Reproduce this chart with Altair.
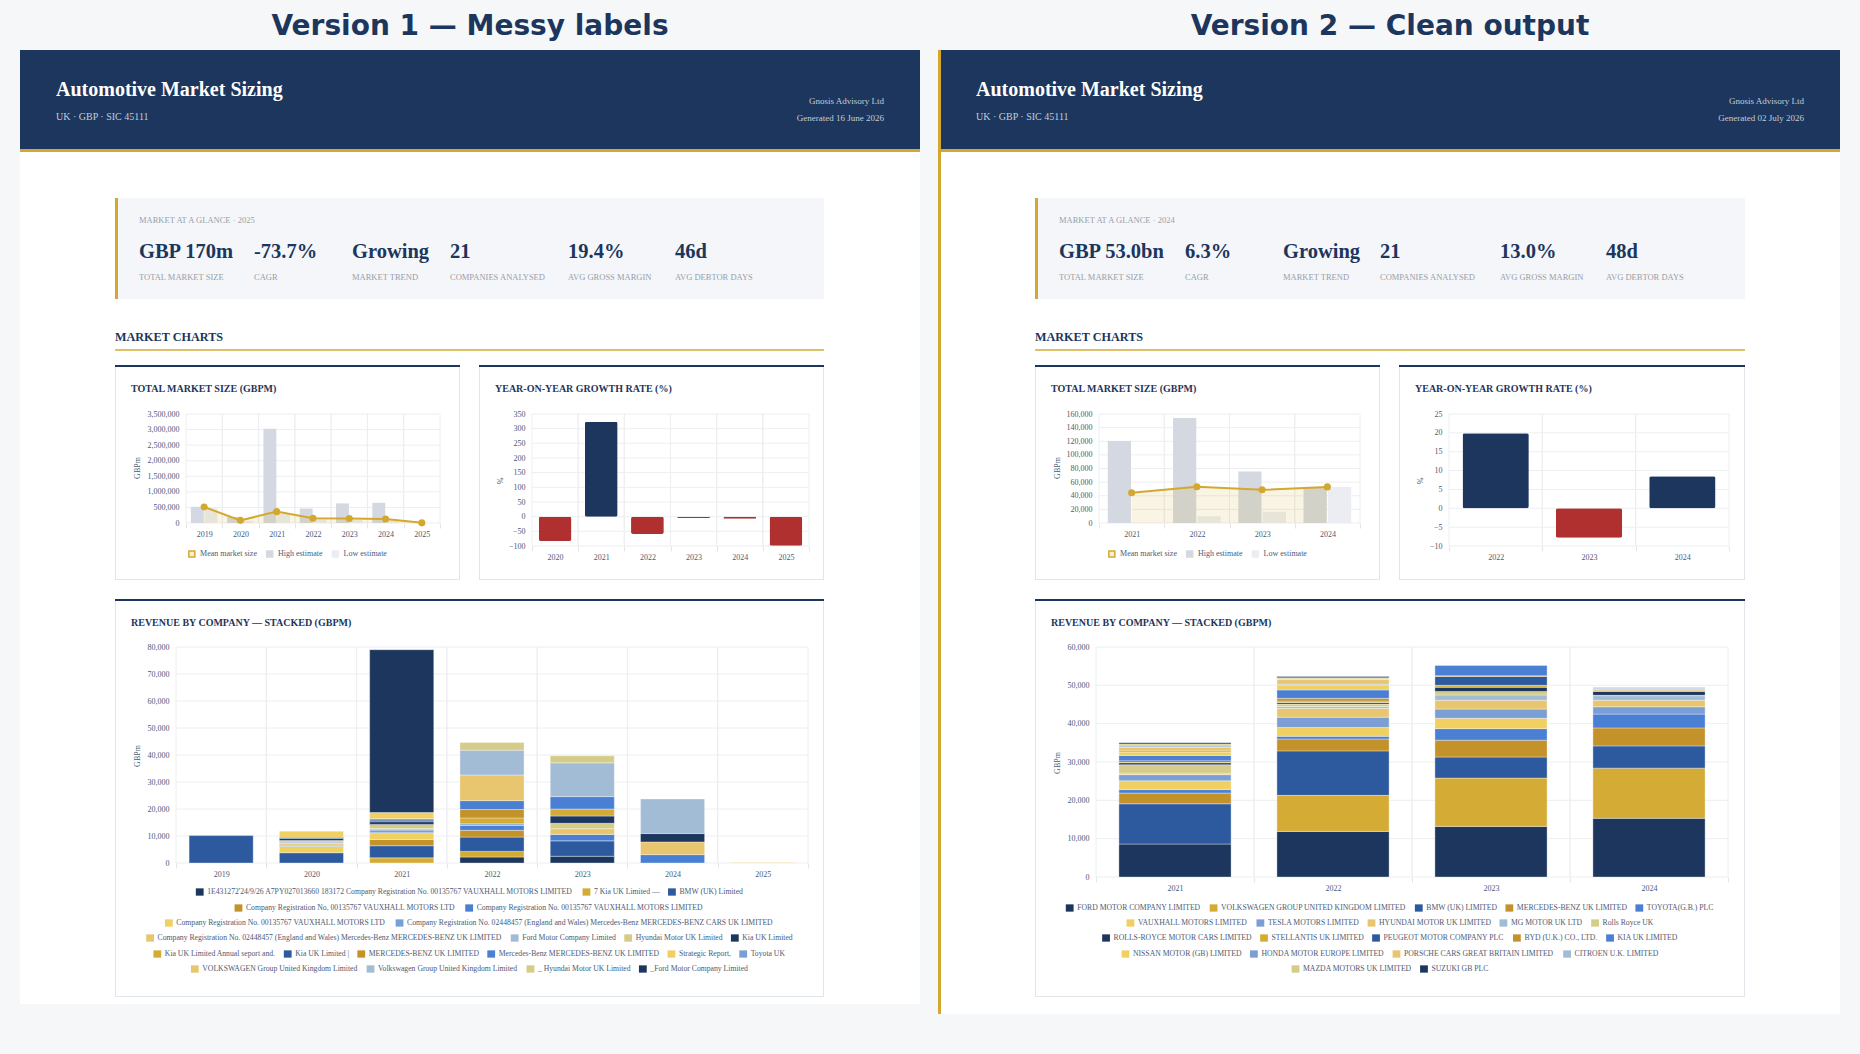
import altair as alt
import pandas as pd

W, H = 1860, 1054

# ====================== DATA ======================
PAGE_TITLES = ["Version 1 — Messy labels", "Version 2 — Clean output"]
REPORT_TITLE = "Automotive Market Sizing"
REPORT_SUB = "UK · GBP · SIC 45111"
REPORT_BY = "Gnosis Advisory Ltd"
GENERATED = ["Generated 16 June 2026", "Generated 02 July 2026"]
GLANCE = ["MARKET AT A GLANCE · 2025", "MARKET AT A GLANCE · 2024"]
KPI_LABELS = ["TOTAL MARKET SIZE", "CAGR", "MARKET TREND", "COMPANIES ANALYSED",
              "AVG GROSS MARGIN", "AVG DEBTOR DAYS"]
L_KPI = ["GBP 170m", "-73.7%", "Growing", "21", "19.4%", "46d"]
R_KPI = ["GBP 53.0bn", "6.3%", "Growing", "21", "13.0%", "48d"]
SECTION = "MARKET CHARTS"
CHART_TITLES = ["TOTAL MARKET SIZE (GBPM)", "YEAR-ON-YEAR GROWTH RATE (%)",
                "REVENUE BY COMPANY — STACKED (GBPM)"]
TMS_SERIES = ["Mean market size", "High estimate", "Low estimate"]
Y_TITLES = ["GBPm", "%"]

# --- Version 1 (left) ---
L_YEARS = ["2019", "2020", "2021", "2022", "2023", "2024", "2025"]
L_HIGH = [520000, 195000, 3030000, 465000, 630000, 650000, 0]
L_LOW = [505000, 70000, 310000, 120000, 95000, 90000, 0]
L_MEAN = [515000, 85000, 365000, 150000, 145000, 130000, 5000]
L_TMS_TICKS = [0, 500000, 1000000, 1500000, 2000000, 2500000, 3000000, 3500000]

L_YOY_YEARS = ["2020", "2021", "2022", "2023", "2024", "2025"]
L_YOY = [-83, 324, -59, -4.5, -7, -99.5]
L_YOY_TICKS = [-100, -50, 0, 50, 100, 150, 200, 250, 300, 350]

L_COMPANIES = [
    "1E431272'24/9/26 A7PY027013660 183172 Company Registration No. 00135767 VAUXHALL MOTORS LIMITED",
    "7 Kia UK Limited —",
    "BMW (UK) Limited",
    "Company Registration No, 00135767 VAUXHALL MOTORS LTD",
    "Company Registration No. 00135767 VAUXHALL MOTORS LIMITED",
    "Company Registration No. 00135767 VAUXHALL MOTORS LTD",
    "Company Registration No. 02448457 (England and Wales) Mercedes-Benz MERCEDES-BENZ CARS UK LIMITED",
    "Company Registration No. 02448457 (England and Wales) Mercedes-Benz MERCEDES-BENZ UK LIMITED",
    "Ford Motor Company Limited",
    "Hyundai Motor UK Limited",
    "Kia UK Limited",
    "Kia UK Limited Annual seport and.",
    "Kia UK Limited |",
    "MERCEDES-BENZ UK LIMITED",
    "Mercedes-Benz MERCEDES-BENZ UK LIMITED",
    "Strategic Report,",
    "Toyota UK",
    "VOLKSWAGEN Group United Kingdom Limited",
    "Volkswagen Group United Kingdom Limited",
    "_ Hyundai Motor UK Limited",
    "_Ford Motor Company Limited",
]
L_REV_2019 = [0, 0, 10150, 0, 0, 0, 0, 0, 0, 0, 0, 0, 0, 0, 0, 0, 0, 0, 0, 0, 0]
L_REV_2020 = [0, 0, 3800, 0, 0, 2300, 500, 600, 600, 500, 800, 0, 400, 0, 0, 2300, 0, 0, 0, 0, 0]
L_REV_2021 = [0, 1900, 4500, 2300, 0, 2500, 1000, 600, 0, 1500, 1000, 0, 600, 600, 0, 2200, 0, 0, 0, 0, 60300]
L_REV_2022 = [2200, 2100, 5300, 2500, 1800, 0, 600, 0, 0, 0, 0, 2200, 0, 3100, 3300, 0, 0, 9500, 9200, 2800, 0]
L_REV_2023 = [2500, 0, 5700, 0, 2400, 0, 0, 2100, 0, 2000, 2700, 2600, 0, 0, 4600, 0, 0, 0, 12500, 2600, 0]
L_REV_2024 = [0, 0, 0, 0, 3100, 0, 0, 4700, 0, 0, 3100, 0, 0, 0, 0, 0, 0, 0, 12800, 0, 0]
L_REV_2025 = [0, 0, 0, 0, 0, 0, 0, 0, 0, 0, 0, 0, 0, 0, 0, 0, 0, 150, 0, 0, 0]
L_REV = [L_REV_2019, L_REV_2020, L_REV_2021, L_REV_2022, L_REV_2023, L_REV_2024, L_REV_2025]
L_REV_TICKS = [0, 10000, 20000, 30000, 40000, 50000, 60000, 70000, 80000]

# --- Version 2 (right) ---
R_YEARS = ["2021", "2022", "2023", "2024"]
R_HIGH = [120500, 154000, 75500, 53000]
R_LOW = [0, 9800, 16500, 53000]
R_MEAN = [44300, 53200, 48700, 53000]
R_TMS_TICKS = [0, 20000, 40000, 60000, 80000, 100000, 120000, 140000, 160000]

R_YOY_YEARS = ["2022", "2023", "2024"]
R_YOY = [19.9, -7.8, 8.5]
R_YOY_TICKS = [-10, -5, 0, 5, 10, 15, 20, 25]

R_COMPANIES = [
    "FORD MOTOR COMPANY LIMITED", "VOLKSWAGEN GROUP UNITED KINGDOM LIMITED", "BMW (UK) LIMITED",
    "MERCEDES-BENZ UK LIMITED", "TOYOTA(G.B.) PLC", "VAUXHALL MOTORS LIMITED",
    "TESLA MOTORS LIMITED", "HYUNDAI MOTOR UK LIMITED", "MG MOTOR UK LTD", "Rolls Royce UK",
    "ROLLS-ROYCE MOTOR CARS LIMITED", "STELLANTIS UK LIMITED", "PEUGEOT MOTOR COMPANY PLC",
    "BYD (U.K.) CO., LTD.", "KIA UK LIMITED", "NISSAN MOTOR (GB) LIMITED",
    "HONDA MOTOR EUROPE LIMITED", "PORSCHE CARS GREAT BRITAIN LIMITED", "CITROEN U.K. LIMITED",
    "MAZDA MOTORS UK LIMITED", "SUZUKI GB PLC",
]
R_REV_2021 = [8600, 0, 10500, 2800, 900, 2300, 1600, 200, 200, 2200, 500, 200, 300, 0, 1400, 900, 300, 900, 400, 500, 300]
R_REV_2022 = [11900, 9400, 11600, 3100, 700, 2300, 2700, 2300, 500, 600, 400, 200, 200, 700, 2200, 1300, 200, 1200, 200, 300, 300]
R_REV_2023 = [13200, 12600, 5500, 4400, 3000, 2700, 2400, 2300, 1400, 900, 1100, 500, 2300, 200, 2700, 0, 0, 0, 0, 0, 0]
R_REV_2024 = [15300, 13100, 5800, 4700, 3600, 0, 1900, 1700, 1200, 100, 1000, 300, 0, 300, 0, 100, 200, 0, 0, 0, 100]
R_REV = [R_REV_2021, R_REV_2022, R_REV_2023, R_REV_2024]
R_REV_TICKS = [0, 10000, 20000, 30000, 40000, 50000, 60000]

# ====================== STYLE ======================
BG = "#f6f7f9"
WHITE = "#ffffff"
NAVY = "#1c365d"
GOLD = "#d4a82e"
GOLD_LIGHT = "#dcc168"
RED = "#b0302f"
GRID = "#eceef1"
BORDER = "#e2e5ea"
KPI_BG = "#f4f6fa"
AXIS_TXT = "#4d5a73"
MUTED = "#999ea7"
HDR_TXT = "#c5ccd8"
HIGH_C = "#d3d8e1"
LOW_C = "#ebedf2"
MEAN_FILL = "#f8f0d8"
PALETTE = ["#1c365d", "#d4ac35", "#2d5a9e", "#c4922a", "#4a7fd4",
           "#f0d060", "#7b9fd4", "#e8c670", "#a3bcd6", "#d4cc88"]
SERIF = "Liberation Serif"
SANS = "DejaVu Sans"

# Times/Liberation Serif advance widths (1/1000 em) for legend layout
_TW = {}
for chars, w in [(" .,·:;", 250), ("ijlt/", 278), ("fr()-I[]", 333), ("'", 180), ("|", 200),
                 ("sJ", 389), ("acez", 444), ("bdghknopquvxy0123456789_", 500),
                 ("FPS", 556), ("ELTZ", 611), ("BCR", 667), ("ADGHKNOQUVXYw", 722),
                 ("m&", 778), ("%", 833), ("M", 889), ("W", 944), ("—", 1000)]:
    for ch in chars:
        _TW[ch] = w


def text_width(s, size):
    return sum(_TW.get(c, 500) for c in s) * size / 1000.0


def flow_legend(names, colors, rows, cx, ys, fsize, sw, sh, gap, igap):
    rects, texts = [], []
    k = 0
    for r, n in enumerate(rows):
        items = list(range(k, k + n))
        k += n
        widths = [sw + gap + text_width(names[i], fsize) for i in items]
        total = sum(widths) + igap * (n - 1)
        x = cx - total / 2.0
        for i, w in zip(items, widths):
            rects.append((x, x + sw, ys[r] - sh / 2.0, ys[r] + sh / 2.0, colors[i]))
            texts.append((x + sw + gap, ys[r], names[i]))
            x += w + igap
    return rects, texts


def xaxis(y_px):
    return alt.Axis(orient="bottom", offset=y_px - H, title=None, labelAngle=0,
                    labelFont=SERIF, labelFontSize=8, labelColor=AXIS_TXT, labelPadding=2,
                    ticks=True, tickSize=5, tickColor="#e3e5e9", tickBand="extent",
                    domain=False, grid=False, zindex=1)


def yaxis(x_px, ticks, fmt):
    return alt.Axis(orient="left", offset=-x_px, title=None, values=ticks, format=fmt,
                    labelFont=SERIF, labelFontSize=8, labelColor=AXIS_TXT, labelPadding=7,
                    ticks=False, tickSize=0, domain=False, grid=False, zindex=1)


def grid_layers(years, ticks, X, Y, x0, x1, yt, yb):
    tk = pd.DataFrame({"v": ticks})
    yrs = pd.DataFrame({"year": years})
    return [
        alt.Chart(tk).mark_rule(color=GRID, strokeWidth=1).encode(
            y=Y("v"), x=alt.value(x0), x2=alt.value(x1)),
        alt.Chart(yrs).mark_rule(color=GRID, strokeWidth=1).encode(
            x=X(bandPosition=0), y=alt.value(yt), y2=alt.value(yb)),
        alt.Chart(yrs).mark_rule(color=GRID, strokeWidth=1).encode(
            x=X(bandPosition=1), y=alt.value(yt), y2=alt.value(yb)),
    ]


def scales(years, ticks, x0, x1, yt, yb, fmt):
    xs = alt.Scale(type="band", domain=years, range=[x0, x1], paddingInner=0, paddingOuter=0)
    ys = alt.Scale(domain=[ticks[0], ticks[-1]], range=[yb, yt], nice=False, zero=False)
    xa, ya = xaxis(yb), yaxis(x0, ticks, fmt)

    def X(**kw):
        return alt.X("year:N", scale=xs, axis=xa, **kw)

    def Y(f, **kw):
        return alt.Y(f"{f}:Q", scale=ys, axis=ya, **kw)
    return X, Y


def tms_group(years, high, low, mean, ticks, x0, x1, yt, yb):
    X, Y = scales(years, ticks, x0, x1, yt, yb, ",.0f")
    bars = pd.DataFrame({"year": years * 2,
                         "kind": [TMS_SERIES[1]] * len(years) + [TMS_SERIES[2]] * len(years),
                         "v": high + low})
    line = pd.DataFrame({"year": years, "mean": mean})
    layers = grid_layers(years, ticks, X, Y, x0, x1, yt, yb) + [
        alt.Chart(bars).mark_bar().encode(
            x=X(),
            xOffset=alt.XOffset("kind:N", scale=alt.Scale(domain=TMS_SERIES[1:], paddingInner=0.05,
                                                          paddingOuter=0.36)),
            y=Y("v"),
            color=alt.Color("kind:N", scale=alt.Scale(domain=TMS_SERIES[1:], range=[HIGH_C, LOW_C]),
                            legend=None)),
        alt.Chart(line).mark_area(color=GOLD, opacity=0.13).encode(x=X(), y=Y("mean")),
        alt.Chart(line).mark_line(color=GOLD, strokeWidth=2).encode(x=X(), y=Y("mean")),
        alt.Chart(line).mark_circle(color=GOLD, size=50, opacity=1).encode(x=X(), y=Y("mean")),
    ]
    return alt.layer(*layers)


def yoy_group(years, vals, ticks, x0, x1, yt, yb):
    X, Y = scales(years, ticks, x0, x1, yt, yb, ".0f")
    df = pd.DataFrame({"year": years, "g": vals})
    layers = grid_layers(years, ticks, X, Y, x0, x1, yt, yb) + [
        alt.Chart(df).mark_bar(width=alt.RelativeBandSize(0.71), cornerRadius=2).encode(
            x=X(), y=Y("g"),
            color=alt.condition("datum.g >= 0", alt.value(NAVY), alt.value(RED))),
    ]
    return alt.layer(*layers)


def stack_group(years, companies, rev, ticks, x0, x1, yt, yb):
    X, Y = scales(years, ticks, x0, x1, yt, yb, ",.0f")
    rows = []
    for y, vals in zip(years, rev):
        for i, (c, v) in enumerate(zip(companies, vals)):
            if v > 0:
                rows.append({"year": y, "company": c, "idx": i, "v": v})
    df = pd.DataFrame(rows)
    colors = [PALETTE[i % len(PALETTE)] for i in range(len(companies))]
    layers = grid_layers(years, ticks, X, Y, x0, x1, yt, yb) + [
        alt.Chart(df).mark_bar(width=alt.RelativeBandSize(0.71), stroke="#ffffff",
                               strokeWidth=0.5, strokeOpacity=0.7).encode(
            x=X(), y=Y("v", stack="zero"),
            color=alt.Color("company:N", scale=alt.Scale(domain=companies, range=colors),
                            legend=None),
            order=alt.Order("idx:Q", sort="ascending")),
    ]
    return alt.layer(*layers)


def rect_layer(rows):
    df = pd.DataFrame(rows, columns=["x", "x2", "y", "y2", "c"])
    df["o"] = range(len(df))
    return alt.Chart(df).mark_rect().encode(
        x=alt.X("x:Q", scale=None, axis=None), x2="x2:Q",
        y=alt.Y("y:Q", scale=None, axis=None), y2="y2:Q",
        color=alt.Color("c:N", scale=None, legend=None),
        order=alt.Order("o:Q"))


def text_layer(rows, **style):
    df = pd.DataFrame(rows, columns=["x", "y", "t"])
    return alt.Chart(df).mark_text(baseline="middle", **style).encode(
        x=alt.X("x:Q", scale=None, axis=None),
        y=alt.Y("y:Q", scale=None, axis=None),
        text=alt.Text("t:N"))


# ====================== LAYOUT ======================
PAGES = [
    dict(page=(20, 920, 50, 1004), hdr=(20, 920), cx=470, tx=56, rx=884,
         kpi=(115, 824), kx=[139, 254, 352, 450, 568, 675], kpi_vals=L_KPI,
         tms=(115, 460), yoy=(479, 824), stk=(115, 824),
         tms_plot=(186, 440), yoy_plot=(532, 809), stk_plot=(176, 808, 863),
         leg_rows=[3, 2, 2, 4, 6, 4], leg_y=[892, 908, 923, 938, 954, 969], stk_ytitle=756),
    dict(page=(938, 1840, 50, 1014), hdr=(941, 1840), cx=1390, tx=976, rx=1804,
         kpi=(1035, 1745), kx=[1059, 1185, 1283, 1380, 1500, 1606], kpi_vals=R_KPI,
         tms=(1035, 1380), yoy=(1399, 1745), stk=(1035, 1745),
         tms_plot=(1099, 1360), yoy_plot=(1449, 1729), stk_plot=(1096, 1728, 877),
         leg_rows=[5, 5, 5, 4, 2], leg_y=[908, 923, 938, 954, 969], stk_ytitle=763),
]

rects = []
T = {k: [] for k in ["ver", "htitle", "hsub", "hright", "cap", "kval", "sect", "ctitle",
                     "ytitle", "leg8", "leg77"]}
groups = []

for p, P in enumerate(PAGES):
    px0, px1, py0, py1 = P["page"]
    rects.append((px0, px1, py0, py1, WHITE))
    hx0, hx1 = P["hdr"]
    rects.append((hx0, hx1, 50, 149, NAVY))
    rects.append((hx0, hx1, 149, 152, GOLD))
    if p == 1:
        rects.append((938, 941, 50, py1, GOLD))
    kx0, kx1 = P["kpi"]
    rects.append((kx0, kx1, 198, 299, KPI_BG))
    rects.append((kx0, kx0 + 3, 198, 299, GOLD))
    rects.append((kx0, kx1, 349, 351, GOLD_LIGHT))
    for (cx0, cx1), (cy0, cy1) in [(P["tms"], (365, 580)), (P["yoy"], (365, 580)),
                                   (P["stk"], (599, 997))]:
        rects.append((cx0, cx1, cy0, cy1, BORDER))
        rects.append((cx0 + 1, cx1 - 1, cy0 + 1, cy1 - 1, WHITE))
        rects.append((cx0, cx1, cy0, cy0 + 2, NAVY))

    # texts
    T["ver"].append((P["cx"], 27, PAGE_TITLES[p]))
    T["htitle"].append((P["tx"], 90, REPORT_TITLE))
    T["hsub"].append((P["tx"], 117, REPORT_SUB))
    T["hright"].append((P["rx"], 101, REPORT_BY))
    T["hright"].append((P["rx"], 118, GENERATED[p]))
    T["cap"].append((kx0 + 24, 220, GLANCE[p]))
    for x, v, lab in zip(P["kx"], P["kpi_vals"], KPI_LABELS):
        T["kval"].append((x, 252, v))
        T["cap"].append((x, 277, lab))
    T["sect"].append((kx0, 337, SECTION))
    T["ctitle"].append((P["tms"][0] + 16, 389, CHART_TITLES[0]))
    T["ctitle"].append((P["yoy"][0] + 16, 389, CHART_TITLES[1]))
    T["ctitle"].append((P["stk"][0] + 16, 623, CHART_TITLES[2]))
    T["ytitle"].append((P["tms"][0] + 23, 468, Y_TITLES[0]))
    T["ytitle"].append((P["yoy"][0] + 22, 481, Y_TITLES[1]))
    T["ytitle"].append((P["stk"][0] + 23, P["stk_ytitle"], Y_TITLES[0]))

    # TMS legend
    tcx = (P["tms"][0] + P["tms"][1]) / 2.0
    lr, lt = flow_legend(TMS_SERIES, [GOLD, HIGH_C, LOW_C], [3], tcx, [554], 8, 7.5, 7.5, 4.5, 9)
    for i, r in enumerate(lr):
        rects.append(r)
        if i == 0:
            rects.append((r[0] + 1.5, r[1] - 1.5, r[2] + 1.5, r[3] - 1.5, MEAN_FILL))
    T["leg8"].extend(lt)

    # stacked legend
    comps = L_COMPANIES if p == 0 else R_COMPANIES
    cols = [PALETTE[i % len(PALETTE)] for i in range(len(comps))]
    scx = (P["stk"][0] + P["stk"][1]) / 2.0
    sr, st = flow_legend(comps, cols, P["leg_rows"], scx, P["leg_y"], 7.7, 7.8, 7.3, 3.6, 8.2)
    rects.extend(sr)
    T["leg77"].extend(st)

    # charts
    tx0, tx1 = P["tms_plot"]
    yx0, yx1 = P["yoy_plot"]
    sx0, sx1, syb = P["stk_plot"]
    if p == 0:
        groups.append(tms_group(L_YEARS, L_HIGH, L_LOW, L_MEAN, L_TMS_TICKS, tx0, tx1, 414, 523))
        groups.append(yoy_group(L_YOY_YEARS, L_YOY, L_YOY_TICKS, yx0, yx1, 414, 546))
        groups.append(stack_group(L_YEARS, L_COMPANIES, L_REV, L_REV_TICKS, sx0, sx1, 647, syb))
    else:
        groups.append(tms_group(R_YEARS, R_HIGH, R_LOW, R_MEAN, R_TMS_TICKS, tx0, tx1, 414, 523))
        groups.append(yoy_group(R_YOY_YEARS, R_YOY, R_YOY_TICKS, yx0, yx1, 414, 546))
        groups.append(stack_group(R_YEARS, R_COMPANIES, R_REV, R_REV_TICKS, sx0, sx1, 647, syb))

STYLES = {
    "ver": dict(font=SANS, fontSize=28, fontWeight="bold", color=NAVY, align="center"),
    "htitle": dict(font=SERIF, fontSize=20, fontWeight="bold", color=WHITE, align="left"),
    "hsub": dict(font=SERIF, fontSize=10, color=HDR_TXT, align="left"),
    "hright": dict(font=SERIF, fontSize=9, color=HDR_TXT, align="right"),
    "cap": dict(font=SERIF, fontSize=8.5, color=MUTED, align="left"),
    "kval": dict(font=SERIF, fontSize=20.5, fontWeight="bold", color=NAVY, align="left"),
    "sect": dict(font=SERIF, fontSize=12.2, fontWeight="bold", color=NAVY, align="left"),
    "ctitle": dict(font=SERIF, fontSize=10, fontWeight="bold", color=NAVY, align="left"),
    "ytitle": dict(font=SERIF, fontSize=8, color=AXIS_TXT, align="center", angle=270),
    "leg8": dict(font=SERIF, fontSize=8, color=AXIS_TXT, align="left"),
    "leg77": dict(font=SERIF, fontSize=7.7, color=AXIS_TXT, align="left"),
}

layers = [rect_layer(rects)] + groups + [text_layer(T[k], **STYLES[k]) for k in STYLES]

chart = alt.layer(*layers).resolve_scale(
    x="independent", y="independent", color="independent", xOffset="independent"
).properties(
    width=W, height=H, autosize=alt.AutoSizeParams(type="none"), padding=0, background=BG
).configure_view(stroke=None)

chart.save("out.html", embed_options={"renderer": "svg", "actions": False})
